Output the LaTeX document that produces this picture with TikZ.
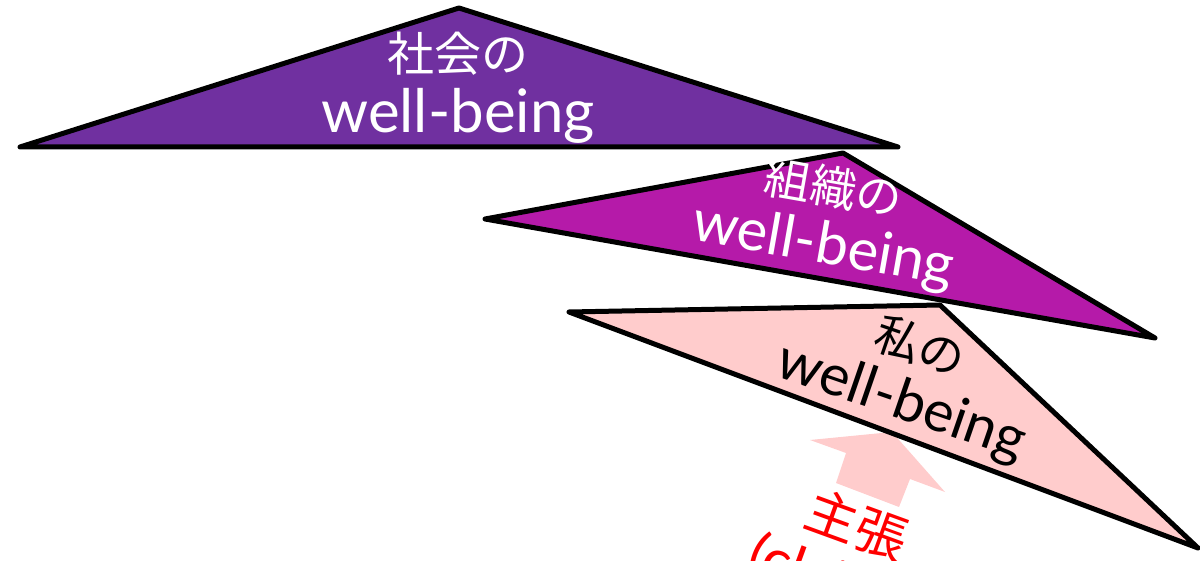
\documentclass[tikz,border=0pt]{standalone}
\usepackage{fontspec}
\setmainfont{Lato}
\newfontfamily\jpfont{Noto Sans CJK JP}
\newcommand{\jpsize}[1]{\jpfont\fontsize{#1}{#1}\selectfont}
\definecolor{socpurple}{HTML}{7030A0}
\definecolor{orgmagenta}{HTML}{B51AA9}
\definecolor{mepink}{HTML}{FFCCCC}
\definecolor{claimred}{HTML}{FF0000}
\begin{document}
\begin{tikzpicture}[x=1pt,y=-1pt,
  tri/.style={draw=black,line width=5pt,line join=round},
  lbl/.style={align=center,inner sep=0pt},
  claimtext/.style={inner sep=0pt,text=claimred,rotate=-20}]
\useasboundingbox (0,0) rectangle (1200,561);
% society
\draw[tri,fill=socpurple] (20,147) -- (459,8) -- (898,147) -- cycle;
% organisation
\draw[tri,fill=orgmagenta] (485,219) -- (843,153) -- (1155,338) -- cycle;
% claim arrow
\fill[mepink] (836,483) -- (846,453) -- (810,440) -- (892,432) -- (945,492) -- (910,479) -- (899,507) -- cycle;
% me
\draw[tri,fill=mepink] (569,312) -- (940,305) -- (1198,548) -- cycle;
% labels
\node[lbl,text=white,font=\fontsize{60}{61}\selectfont] (soc) at (458,88)
  {{\jpsize{47}社会の}\\well-being};
\node[lbl,text=white,font=\fontsize{58}{59}\selectfont,rotate=-10] (org) at (828,220)
  {{\jpsize{46}組織の}\\well-being};
\node[lbl,text=black,font=\fontsize{57}{58}\selectfont,rotate=-19] (me) at (910,377)
  {{\jpsize{46}私の}\\well-being};
\node[claimtext,font=\jpsize{52}] (claimjp) at (857,525) {主張};
\node[claimtext,font=\fontsize{58}{58}\selectfont,anchor=base west] (claimen) at (744,570) {(claim)};
\end{tikzpicture}
\end{document}
